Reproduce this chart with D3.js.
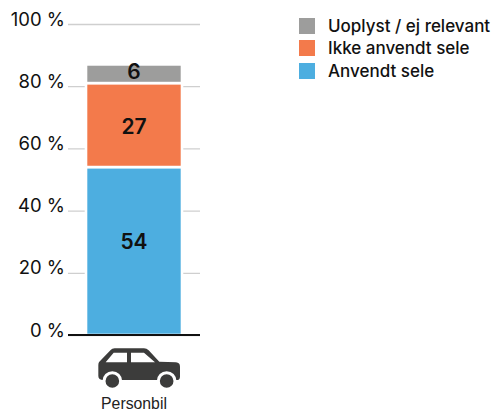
<!DOCTYPE html>
<html>

<head>
    <meta charset="utf-8">
    <style>
        html, body {
            margin: 0;
            padding: 0;
            background: white;
        }

        svg {
            display: block;
            font-family: Inter, "Noto Sans", Arial, sans-serif;
        }
    </style>
</head>

<body>
    <svg width="492" height="412"></svg>

    <script src="https://d3js.org/d3.v7.min.js"></script>

    <script>
        let categories = ["Personbil"]
        let seriesNames = ["Anvendt sele", "Ikke anvendt sele", "Uoplyst / ej relevant"]
        let seriesColors = ["#4daee0", "#f37a4b", "#9d9d9c"]
        let anvendtSele = [54]
        let ikkeAnvendtSele = [27]
        let uoplyst = [6]
        let yTicks = [0, 20, 40, 60, 80, 100]

        let svg = d3.select("svg")

        let y = d3.scaleLinear().domain([0, 100]).range([335, 24])
        let x = d3.scaleBand().domain(categories).range([68, 200]).paddingInner(0).paddingOuter(0.1875)

        // grid lines + tick labels
        let yAxis = d3.axisLeft(y)
            .tickValues(yTicks)
            .tickSize(-132)
            .tickPadding(3)
            .tickFormat(d => d + " %")

        let axisG = svg.append("g")
            .attr("transform", "translate(68,0)")
            .call(yAxis)

        axisG.select(".domain").remove()
        axisG.selectAll("line")
            .attr("stroke", "#cfcfcf")
            .attr("stroke-width", 1.3)
        axisG.selectAll("text")
            .attr("font-family", "Inter")
            .attr("font-size", 18.5)
            .attr("fill", "#111")
            .attr("dy", "0.06em")

        // stacked bar
        let rows = categories.map((c, i) => ({
            category: c,
            "Anvendt sele": anvendtSele[i],
            "Ikke anvendt sele": ikkeAnvendtSele[i],
            "Uoplyst / ej relevant": uoplyst[i]
        }))

        let stacked = d3.stack().keys(seriesNames)(rows)
        let color = d3.scaleOrdinal().domain(seriesNames).range(seriesColors)

        // the labels don't sit in the exact middle of their segment in the original
        let labelShift = d3.scaleOrdinal().domain(seriesNames).range([-9.5, 1, -2])

        let layers = svg.selectAll(".layer")
            .data(stacked)
            .join("g")
            .attr("class", "layer")

        layers.selectAll("rect")
            .data(d => d.map(v => ({ key: d.key, v: v })))
            .join("rect")
            .attr("x", d => x(d.v.data.category))
            .attr("width", x.bandwidth())
            .attr("y", d => y(d.v[1]))
            .attr("height", d => y(d.v[0]) - y(d.v[1]))
            .attr("fill", d => color(d.key))
            .attr("stroke", "white")
            .attr("stroke-width", 2.6)

        layers.selectAll("text")
            .data(d => d.map(v => ({ key: d.key, v: v })))
            .join("text")
            .attr("x", d => x(d.v.data.category) + x.bandwidth() / 2)
            .attr("y", d => y((d.v[0] + d.v[1]) / 2) + labelShift(d.key))
            .attr("dy", "0.36em")
            .attr("text-anchor", "middle")
            .attr("font-size", 21)
            .attr("font-weight", 600)
            .attr("fill", "#111")
            .text(d => d.v[1] - d.v[0])

        // base line
        svg.append("line")
            .attr("x1", 68)
            .attr("x2", 200)
            .attr("y1", y(0))
            .attr("y2", y(0))
            .attr("stroke", "#111")
            .attr("stroke-width", 2)

        // car icon, drawn in 3x units
        let car = svg.append("g")
            .attr("transform", "translate(70,310) scale(0.3333)")

        car.append("path")
            .attr("fill", "#3c3c3b")
            .attr("d", "M88 155 L122 120 Q126 115 134 115 L222 115 Q230 115 236 121 L268 155 L318 157 Q330 158 330 170 L330 200 Q330 210 320 210 L100 210 Q85 210 85 198 L85 165 Q85 158 88 155 Z")

        car.append("path")
            .attr("fill", "white")
            .attr("d", "M107 157 L131 128 L171 128 L171 157 Z M183 128 L222 128 L255 157 L183 157 Z")

        car.selectAll("circle")
            .data([127, 290])
            .join("circle")
            .attr("cx", d => d)
            .attr("cy", 213)
            .attr("r", 25)
            .attr("fill", "#3c3c3b")
            .attr("stroke", "white")
            .attr("stroke-width", 9)

        svg.append("text")
            .attr("x", x(categories[0]) + x.bandwidth() / 2)
            .attr("y", 409)
            .attr("text-anchor", "middle")
            .attr("font-size", 15.8)
            .attr("font-family", "Liberation Sans")
            .attr("fill", "#222")
            .text(categories[0])

        // legend, top row is the top of the stack
        let legendNames = seriesNames.slice().reverse()

        let legend = svg.selectAll(".legend")
            .data(legendNames)
            .join("g")
            .attr("class", "legend")
            .attr("transform", (d, i) => "translate(299," + [18, 40, 63][i] + ")")

        legend.append("rect")
            .attr("width", 16)
            .attr("height", 16)
            .attr("fill", d => color(d))

        legend.append("text")
            .attr("x", 29)
            .attr("y", 8)
            .attr("dy", "0.36em")
            .attr("font-size", 17)
            .attr("font-weight", 500)
            .attr("fill", "#111")
            .text(d => d)
    </script>
</body>

</html>
